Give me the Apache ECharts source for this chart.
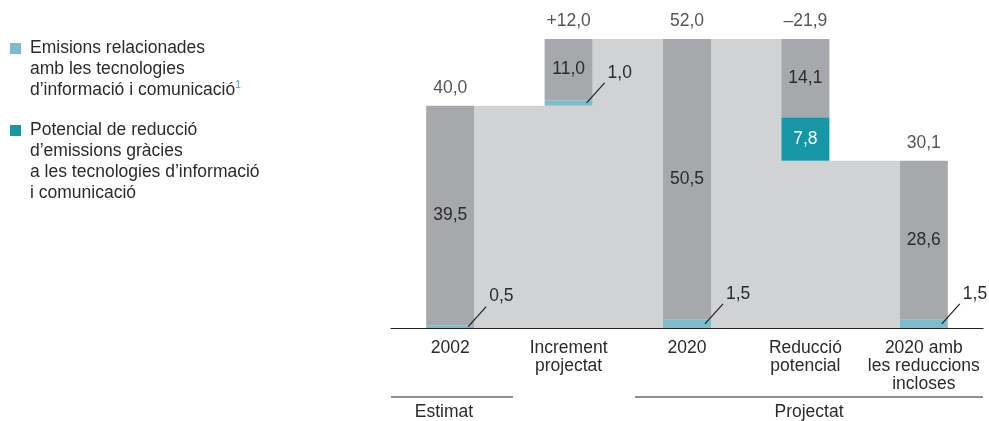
<!DOCTYPE html>
<html>
<head>
<meta charset="utf-8">
<script src="https://cdn.jsdelivr.net/npm/echarts@6/dist/echarts.min.js"></script>
<style>
  html, body { margin: 0; padding: 0; background: #fff; }
  #chart { width: 989px; height: 421px; }
</style>
</head>
<body>
<div id="chart"></div>
<script>
// categories and values
const categories = ['2002', 'Increment\nprojectat', '2020', 'Reducció\npotencial', '2020 amb\nles reduccions\nincloses'];
const baseVals = [0, 40.0, 0, 30.1, 0];          // invisible base of floating bars
const ictVals = [0.5, 1.0, 1.5, 0, 1.5];         // emissions from ICT
const reductionVals = [0, 0, 0, 7.8, 0];         // reduction potential thanks to ICT
const restVals = [39.5, 11.0, 50.5, 14.1, 28.6]; // rest of emissions
const runningVals = [40.0, 52.0, 52.0, 30.1, 30.1]; // level after each step
const totalLabels = ['40,0', '+12,0', '52,0', '\u201321,9', '30,1'];

const FONT = '"Liberation Sans", Arial, sans-serif';
const FS = 17.5;
const TEXT = '#2b2b2b';
const BAR_W = 48;

const fmt = v => v.toFixed(1).replace('.', ',');

const chart = echarts.init(document.getElementById('chart'));

// top of every bar, for the labels above them
const topVals = categories.map((c, i) => +(baseVals[i] + ictVals[i] + reductionVals[i] + restVals[i]).toFixed(1));

// light grey connector behind the bars
const backdropData = [1, 2, 3, 4].map(i => [i, runningVals[i - 1], baseVals[i]]);
// small ICT values with a leader line
const leaderData = [];
ictVals.forEach((v, i) => {
  if (v > 0) leaderData.push([i, baseVals[i] + v / 2, v]);
});

const option = {
  animation: false,
  grid: { left: 391, right: 6, top: 39, bottom: 93 },
  xAxis: {
    type: 'category',
    data: categories,
    axisTick: { show: false },
    axisLine: { lineStyle: { color: '#231f20', width: 1.2 } },
    axisLabel: { color: TEXT, fontSize: FS, fontFamily: FONT, lineHeight: 18, margin: 11, interval: 0 }
  },
  yAxis: { type: 'value', min: 0, max: 52, show: false },
  series: [
    {
      type: 'custom',
      z: 1,
      silent: true,
      data: backdropData,
      encode: { x: 0, y: 1 },
      renderItem: (params, api) => {
        const i = api.value(0);
        const cur = api.coord([i, 0]);
        const prev = api.coord([i - 1, 0]);
        const yTop = api.coord([i, api.value(1)])[1];
        const yBase = api.coord([i, api.value(2)])[1];
        const h = BAR_W / 2;
        return {
          type: 'group',
          children: [
            { type: 'rect', shape: { x: prev[0] + h, y: yTop, width: cur[0] - prev[0] - 2 * h, height: cur[1] - yTop }, style: { fill: '#d1d2d4' } },
            { type: 'rect', shape: { x: cur[0] - h - 0.5, y: yBase, width: BAR_W + 1, height: cur[1] - yBase }, style: { fill: '#d1d2d4' } }
          ]
        };
      }
    },
    {
      type: 'bar', stack: 'w', barWidth: BAR_W, z: 2, silent: true,
      data: baseVals,
      itemStyle: { color: 'transparent' }
    },
    {
      type: 'bar', stack: 'w', barWidth: BAR_W, z: 2,
      data: ictVals,
      itemStyle: { color: '#7dbccb' }
    },
    {
      type: 'bar', stack: 'w', barWidth: BAR_W, z: 2,
      data: reductionVals,
      itemStyle: { color: '#1797a6' },
      label: {
        show: true, position: 'inside', color: '#fff', fontSize: FS, fontFamily: FONT,
        formatter: p => (p.value ? fmt(p.value) : '')
      }
    },
    {
      type: 'bar', stack: 'w', barWidth: BAR_W, z: 2,
      data: restVals,
      itemStyle: { color: '#a7a8ab' },
      label: {
        show: true, position: 'inside', color: TEXT, fontSize: FS, fontFamily: FONT,
        formatter: p => fmt(p.value)
      }
    },
    {
      type: 'scatter', symbolSize: 0, z: 3, silent: true,
      data: topVals,
      label: {
        show: true, position: 'top', distance: 9, color: TEXT, fontSize: FS, fontFamily: FONT,
        formatter: p => totalLabels[p.dataIndex]
      }
    },
    {
      type: 'custom',
      z: 4,
      silent: true,
      data: leaderData,
      encode: { x: 0, y: 1 },
      renderItem: (params, api) => {
        const p = api.coord([api.value(0), api.value(1)]);
        const x0 = p[0] + 18, y0 = p[1];
        const x1 = x0 + 18, y1 = y0 - 20;
        return {
          type: 'group',
          children: [
            { type: 'line', shape: { x1: x0, y1: y0, x2: x1, y2: y1 }, style: { stroke: '#231f20', lineWidth: 1.2 } },
            {
              type: 'text', x: x1 + 3, y: y1 - 10,
              style: { text: fmt(api.value(2)), fill: TEXT, font: FS + 'px ' + FONT, align: 'left', verticalAlign: 'middle', textAlign: 'left', textVerticalAlign: 'middle' }
            }
          ]
        };
      }
    }
  ],
  graphic: [
    // legend
    { type: 'rect', shape: { x: 10, y: 43, width: 11, height: 11 }, style: { fill: '#7dbccb' } },
    {
      type: 'text', x: 30, y: 38,
      style: {
        text: 'Emisions relacionades\namb les tecnologies\nd\u2019informació i comunicació{sup|1}',
        font: FS + 'px ' + FONT, fill: TEXT, lineHeight: 21, verticalAlign: 'top',
        rich: { sup: { fontSize: 10, fill: '#3fa3bd', verticalAlign: 'top', lineHeight: 21, fontFamily: FONT } }
      }
    },
    { type: 'rect', shape: { x: 10, y: 125, width: 11, height: 11 }, style: { fill: '#1797a6' } },
    {
      type: 'text', x: 30, y: 120,
      style: {
        text: 'Potencial de reducció\nd\u2019emissions gràcies\na les tecnologies d\u2019informació\ni comunicació',
        font: FS + 'px ' + FONT, fill: TEXT, lineHeight: 21, verticalAlign: 'top'
      }
    },
    // period brackets under the axis
    { type: 'line', shape: { x1: 391, y1: 397, x2: 513, y2: 397 }, style: { stroke: '#231f20', lineWidth: 1 } },
    { type: 'text', x: 444, y: 412, style: { text: 'Estimat', font: FS + 'px ' + FONT, fill: TEXT, align: 'center', verticalAlign: 'middle' } },
    { type: 'line', shape: { x1: 635, y1: 397, x2: 983, y2: 397 }, style: { stroke: '#231f20', lineWidth: 1 } },
    { type: 'text', x: 809, y: 412, style: { text: 'Projectat', font: FS + 'px ' + FONT, fill: TEXT, align: 'center', verticalAlign: 'middle' } }
  ]
};

chart.setOption(option);
</script>
</body>
</html>
